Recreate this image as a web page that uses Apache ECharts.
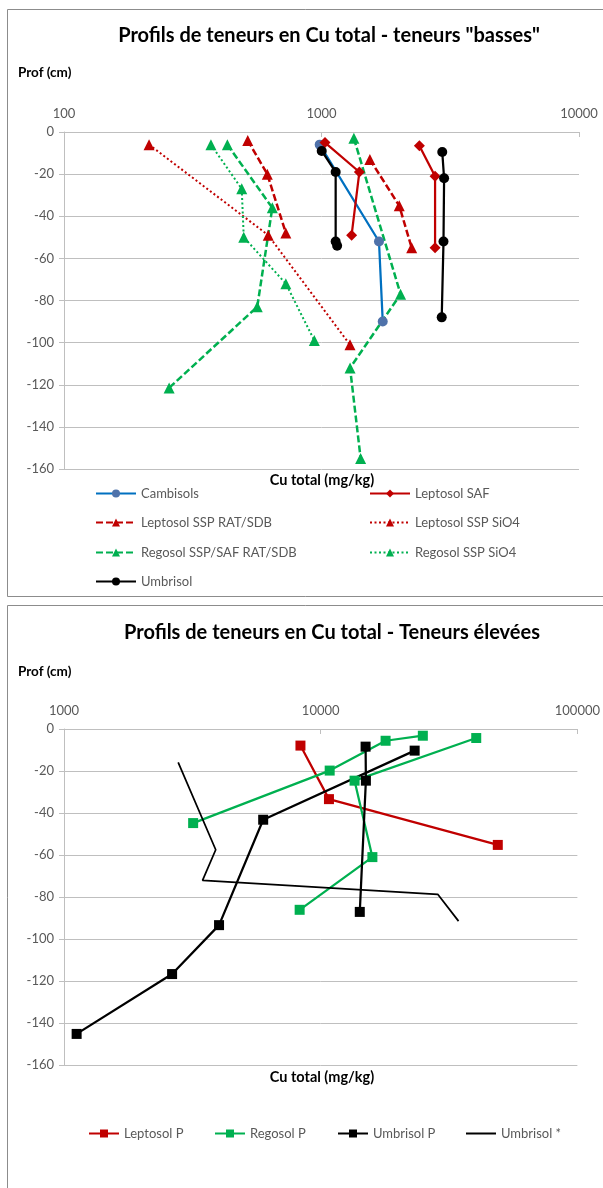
<!DOCTYPE html>
<html>
<head>
<meta charset="utf-8">
<script src="https://cdn.jsdelivr.net/npm/echarts@6/dist/echarts.min.js"></script>
<style>
html,body{margin:0;padding:0;background:#fff;}
#chart{width:603px;height:1188px;}
</style>
</head>
<body>
<div id="chart"></div>
<script>
// ---------- Chart 1 : teneurs "basses" ----------
const xTicks1 = [100, 1000, 10000];
const cambisolsCu = [984, 1672, 1729];
const cambisolsProf = [-6, -52, -90];
const leptosolSafCu = [1032, 1403, 1309, null, 2399, 2761, 2761];
const leptosolSafProf = [-5, -19, -49, null, -6.5, -21, -55];
const leptosolRatCu = [517, 616, 727, null, 1541, 2004, 2240];
const leptosolRatProf = [-4, -20, -48, null, -13, -35, -55];
const leptosolSio4Cu = [214, 621, 1290];
const leptosolSio4Prof = [-6, -49, -101];
const regosolRatCu = [431, 644, 563, 256, null, 1336, 2028, 1291, 1419];
const regosolRatProf = [-6, -36, -83, -121.5, null, -3, -77, -112, -155];
const regosolSio4Cu = [372, 490, 499, 727, 938];
const regosolSio4Prof = [-6, -27, -50, -72, -99];
const umbrisolCu = [1002, 1135, 1135, 1150, null, 2944, 2993, 2977, 2930];
const umbrisolProf = [-9, -19, -52, -54, null, -9.5, -22, -52, -88];

// ---------- Chart 2 : teneurs élevées ----------
const xTicks2 = [1000, 10000, 100000];
const leptosolPCu = [8340, 10770, 48970];
const leptosolPProf = [-7.9, -33.4, -55.2];
const regosolPCu = [25000, 17900, 10840, 3185, null, 40360, 13550, 15900, 8280];
const regosolPProf = [-3.2, -5.6, -19.8, -44.8, null, -4.3, -24.6, -61, -86.1];
const umbrisolPCu = [14960, 15000, 14200, null, 23230, 5970, 4018, 2637, 1120];
const umbrisolPProf = [-8.4, -24.6, -87.1, null, -10.3, -43.2, -93.4, -116.7, -145.2];
const umbrisolStarCu = [2785, 3900, 3465, 28580, 34440];
const umbrisolStarProf = [-15.9, -57.5, -72.1, -78.7, -91.5];

const depthTicks = [0, -20, -40, -60, -80, -100, -120, -140, -160];

function zip(xs, ys) {
  return xs.map((x, i) => (x == null ? [null, null] : [x, ys[i]]));
}

const FONT = 'Lato';
const RED = '#C00000', GREEN = '#00B050', BLUE = '#0070C0', BLUEM = '#4F72AA', BLACK = '#000000';
const GRID = '#BFBFBF', LABEL = '#595959';

function xAxisCfg(gridIndex, ticks) {
  return {
    type: 'log', logBase: 10, gridIndex: gridIndex, position: 'top',
    min: ticks[0], max: ticks[ticks.length - 1],
    axisLine: {show: true, lineStyle: {color: GRID, width: 1}},
    axisTick: {show: true, inside: true, length: 5, lineStyle: {color: GRID}},
    minorTick: {show: false},
    splitLine: {show: false},
    axisLabel: {color: LABEL, fontFamily: FONT, fontSize: 13, margin: 12,
      formatter: v => String(Math.round(v))}
  };
}
function yAxisCfg(gridIndex) {
  return {
    type: 'value', gridIndex: gridIndex,
    min: depthTicks[depthTicks.length - 1], max: depthTicks[0], interval: 20,
    axisLine: {show: true, onZero: false, lineStyle: {color: GRID, width: 1}},
    axisTick: {show: true, inside: false, length: 5, lineStyle: {color: GRID}},
    splitLine: {show: true, lineStyle: {color: GRID, width: 1}},
    axisLabel: {color: LABEL, fontFamily: FONT, fontSize: 13, margin: 10}
  };
}

function lineSeries(name, data, axisIndex, color, symbolColor, symbol, size, width, type) {
  return {
    name: name, type: 'line', xAxisIndex: axisIndex, yAxisIndex: axisIndex,
    data: data, connectNulls: false, symbol: symbol, symbolSize: size,
    showSymbol: symbol !== 'none',
    itemStyle: {color: symbolColor, borderWidth: 0},
    lineStyle: {color: color, width: width, type: type},
    emphasis: {disabled: true}, z: 2
  };
}

const legendText = {color: LABEL, fontFamily: FONT, fontSize: 13};
function legendAt(name, left, centerY, w) {
  return {data: [name], left: left, top: centerY - 7, itemWidth: w, itemHeight: 10,
          padding: 0, textStyle: legendText, selectedMode: false};
}

const option = {
  animation: false,
  backgroundColor: '#fff',
  textStyle: {fontFamily: FONT},
  title: [
    {text: 'Profils de teneurs en Cu total - teneurs "basses"', left: 324, top: 21, textAlign: 'center',
     textStyle: {fontFamily: FONT, fontSize: 20, fontWeight: 'bold', color: '#000'}},
    {text: 'Profils de teneurs en Cu total - Teneurs élevées', left: 327, top: 618, textAlign: 'center',
     textStyle: {fontFamily: FONT, fontSize: 20, fontWeight: 'bold', color: '#000'}}
  ],
  grid: [
    {left: 64, top: 132, width: 515, height: 337},
    {left: 64, top: 729, width: 514, height: 336}
  ],
  xAxis: [xAxisCfg(0, xTicks1), xAxisCfg(1, xTicks2)],
  yAxis: [yAxisCfg(0), yAxisCfg(1)],
  legend: [
    legendAt('Cambisols', 95, 494, 40),
    legendAt('Leptosol SAF', 369, 494, 40),
    legendAt('Leptosol SSP RAT/SDB', 95, 523, 40),
    legendAt('Leptosol SSP SiO4', 369, 523, 40),
    legendAt('Regosol SSP/SAF RAT/SDB', 95, 553, 40),
    legendAt('Regosol SSP SiO4', 369, 553, 40),
    legendAt('Umbrisol', 95, 582, 40),
    legendAt('Leptosol P', 88, 1134, 30),
    legendAt('Regosol P', 214, 1134, 30),
    legendAt('Umbrisol P', 337, 1134, 30),
    {data: [{name: 'Umbrisol *', icon: 'rect'}], left: 466, top: 1134 - 7, itemWidth: 30, itemHeight: 2,
     padding: 0, textStyle: legendText, selectedMode: false, itemStyle: {color: BLACK}}
  ],
  graphic: [
    {type: 'rect', shape: {x: 7.5, y: 9.5, width: 700, height: 587}, style: {fill: 'none', stroke: '#8C8C8C', lineWidth: 1}, silent: true, z: -10},
    {type: 'rect', shape: {x: 7.5, y: 605.5, width: 700, height: 700}, style: {fill: 'none', stroke: '#8C8C8C', lineWidth: 1}, silent: true, z: -10},
    {type: 'text', left: 18, top: 66, style: {text: 'Prof (cm)', fill: '#000', font: 'bold 13.5px Lato'}},
    {type: 'text', left: 18, top: 665, style: {text: 'Prof (cm)', fill: '#000', font: 'bold 13.5px Lato'}},
    {type: 'text', x: 322, y: 480, style: {text: 'Cu total (mg/kg)', fill: '#000', font: 'bold 14.5px Lato', textAlign: 'center', textVerticalAlign: 'middle'}},
    {type: 'text', x: 322, y: 1077, style: {text: 'Cu total (mg/kg)', fill: '#000', font: 'bold 14.5px Lato', textAlign: 'center', textVerticalAlign: 'middle'}}
  ],
  series: [
    lineSeries('Cambisols', zip(cambisolsCu, cambisolsProf), 0, BLUE, BLUEM, 'circle', 10, 2.25, 'solid'),
    lineSeries('Leptosol SAF', zip(leptosolSafCu, leptosolSafProf), 0, RED, RED, 'diamond', 11, 2.25, 'solid'),
    lineSeries('Leptosol SSP RAT/SDB', zip(leptosolRatCu, leptosolRatProf), 0, RED, RED, 'triangle', 11, 2.5, [7, 3]),
    lineSeries('Leptosol SSP SiO4', zip(leptosolSio4Cu, leptosolSio4Prof), 0, RED, RED, 'triangle', 11, 2, [2, 2.5]),
    lineSeries('Regosol SSP/SAF RAT/SDB', zip(regosolRatCu, regosolRatProf), 0, GREEN, GREEN, 'triangle', 11, 2.5, [7, 3]),
    lineSeries('Regosol SSP SiO4', zip(regosolSio4Cu, regosolSio4Prof), 0, GREEN, GREEN, 'triangle', 11, 2, [2, 2.5]),
    lineSeries('Umbrisol', zip(umbrisolCu, umbrisolProf), 0, BLACK, BLACK, 'circle', 10, 2.25, 'solid'),
    lineSeries('Leptosol P', zip(leptosolPCu, leptosolPProf), 1, RED, RED, 'rect', 10, 2.25, 'solid'),
    lineSeries('Regosol P', zip(regosolPCu, regosolPProf), 1, GREEN, GREEN, 'rect', 10, 2.25, 'solid'),
    lineSeries('Umbrisol P', zip(umbrisolPCu, umbrisolPProf), 1, BLACK, BLACK, 'rect', 10, 2.25, 'solid'),
    lineSeries('Umbrisol *', zip(umbrisolStarCu, umbrisolStarProf), 1, BLACK, BLACK, 'none', 0, 1.75, 'solid')
  ]
};

const chart = echarts.init(document.getElementById('chart'), null, {renderer: 'canvas'});
chart.setOption(option);
</script>
</body>
</html>
